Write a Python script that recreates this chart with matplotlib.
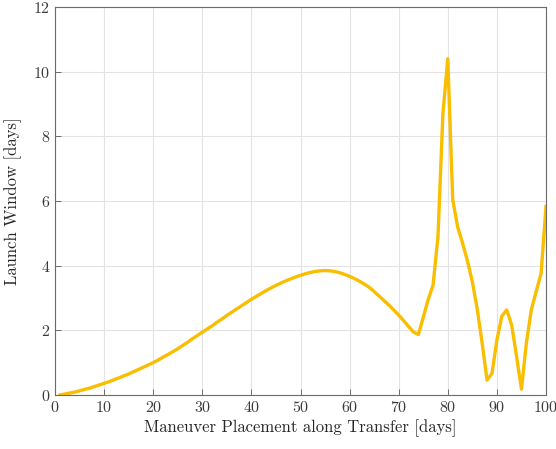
import numpy as np
import matplotlib
matplotlib.use('Agg')
import matplotlib.pyplot as plt

plt.rcParams['font.family'] = ['cmr10', 'DejaVu Serif']
plt.rcParams['mathtext.fontset'] = 'cm'
plt.rcParams['axes.formatter.use_mathtext'] = True

# maneuver placement [days] and launch window [days]
days = list(range(1, 101))
window = [
    0.00, 0.03, 0.06, 0.09, 0.13, 0.17, 0.21, 0.26, 0.31, 0.36,
    0.41, 0.47, 0.53, 0.59, 0.65, 0.72, 0.79, 0.86, 0.93, 1.00,
    1.08, 1.17, 1.25, 1.34, 1.43, 1.53, 1.63, 1.74, 1.84, 1.94,
    2.04, 2.14, 2.25, 2.35, 2.46, 2.56, 2.66, 2.76, 2.86, 2.96,
    3.05, 3.14, 3.23, 3.31, 3.39, 3.46, 3.53, 3.59, 3.65, 3.70,
    3.75, 3.79, 3.82, 3.84, 3.85, 3.84, 3.82, 3.78, 3.73, 3.67,
    3.60, 3.52, 3.43, 3.33, 3.20, 3.06, 2.92, 2.78, 2.63, 2.47,
    2.30, 2.12, 1.95, 1.87, 2.40, 2.95, 3.40, 4.90, 8.70, 10.40,
    6.05, 5.20, 4.70, 4.15, 3.50, 2.65, 1.60, 0.46, 0.67, 1.70,
    2.44, 2.63, 2.17, 1.20, 0.18, 1.60, 2.63, 3.20, 3.76, 5.83,
]

fig = plt.figure(figsize=(5.56, 4.49), dpi=100)
ax = fig.add_axes([55 / 556, 1 - 395 / 449, 491 / 556, 388 / 449])

ax.plot(days, window, color='#F9BE00', linewidth=2.4)

ax.set_xlim(0, 100)
ax.set_ylim(0, 12)
ax.set_xticks(range(0, 101, 10))
ax.set_yticks(range(0, 13, 2))
ax.grid(True, color='#e3e3e3', linewidth=0.8)
ax.set_axisbelow(True)
ax.tick_params(direction='in', length=4, colors='#5a5a5a', labelcolor='#3a3a3a',
               labelsize=11.5, width=0.6)
for s in ax.spines.values():
    s.set_color('#6a6a6a')
    s.set_linewidth(0.8)

ax.set_xlabel('Maneuver Placement along Transfer [days]', fontsize=12, color='#262626', labelpad=3)
ax.set_ylabel('Launch Window [days]', fontsize=12, color='#262626', labelpad=8)

fig.savefig('out.png', dpi=100)
